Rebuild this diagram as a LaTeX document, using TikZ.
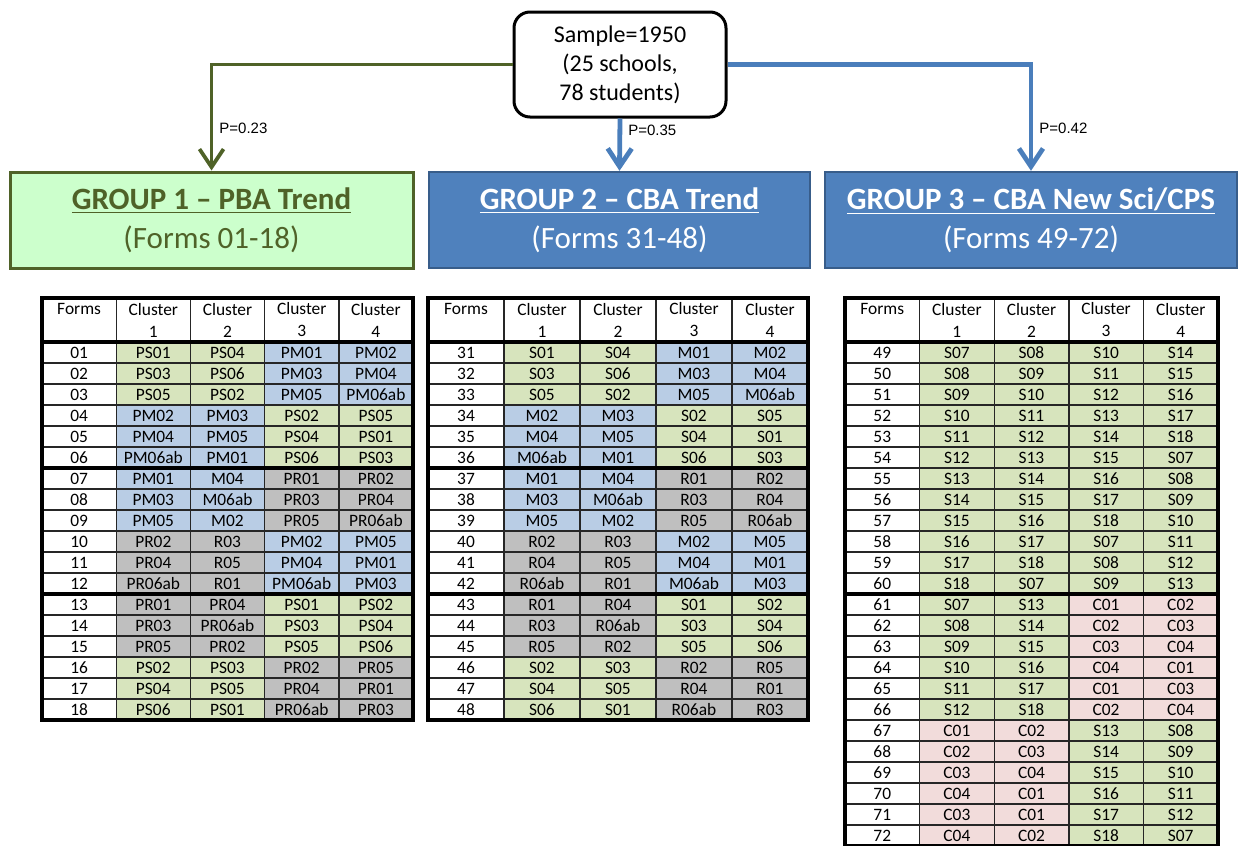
\documentclass[tikz,border=0pt]{standalone}
\usepackage{fontspec}
\setmainfont{Carlito}
\newfontfamily\labelfont{Liberation Sans}
\usetikzlibrary{arrows.meta, positioning}

\definecolor{grpgreen}{HTML}{CCFFCC}
\definecolor{grpolive}{HTML}{4F6228}
\definecolor{grpblue}{HTML}{4F81BD}
\definecolor{grpblueline}{HTML}{385D8A}
\definecolor{linkblue}{HTML}{4A7EBB}
\definecolor{cellS}{HTML}{D7E4BD}
\definecolor{cellM}{HTML}{B9CDE5}
\definecolor{cellR}{HTML}{BFBFBF}
\definecolor{cellC}{HTML}{F2DCDB}

\newcommand\tablefont{\fontsize{8.7}{11}\selectfont}

% one forms table: name, left x, cell width, rows, heavy breaks, data
\newcommand\formtable[6]{%
  \begin{scope}[shift={(#2,298)}, cell/.append style={minimum width=#3*0.5pt}]
    \node[cell, minimum height=22pt] (#1-h0) at (0,0) {Forms\\\mbox{}};
    \foreach \k in {1,...,4}
      \node[cell, minimum height=22pt] (#1-h\k) at (\k*#3,0) {Cluster\\\k};
    \foreach \fm/\ua/\ub/\uc/\ud/\lc/\rc [count=\i] in {#6} {
      \pgfmathsetmacro\yy{44+(\i-1)*21}
      \node[cell] (#1-\i-0) at (0,\yy) {\fm};
      \node[cell, fill=cell\lc] (#1-\i-1) at (#3,\yy) {\ua};
      \node[cell, fill=cell\lc] (#1-\i-2) at (2*#3,\yy) {\ub};
      \node[cell, fill=cell\rc] (#1-\i-3) at (3*#3,\yy) {\uc};
      \node[cell, fill=cell\rc] (#1-\i-4) at (4*#3,\yy) {\ud};
    }
    % heavy rules
    \draw[heavyrule] (#1-1-0.north west) -- (#1-1-4.north east);
    \foreach \j in {#5}
      \draw[heavyrule] (#1-\j-0.south west) -- (#1-\j-4.south east);
    \draw[heavyrule] (#1-h0.north west) rectangle (#1-#4-4.south east);
  \end{scope}}

\begin{document}
\begin{tikzpicture}[
    x=0.5pt, y=-0.5pt,
    group/.style={rectangle, minimum height=48pt, align=center, font=\fontsize{15.5}{19.5}\selectfont},
    link/.style={draw, line width=2.4pt, -{Straight Barb[length=9pt, width=12pt]}},
    plabel/.style={font=\labelfont\fontsize{7.5}{9}\selectfont, right, inner sep=3pt, text=black},
    cell/.style={draw=black!85, line width=0.7pt, fill=white, anchor=north west, inner sep=0pt, outer sep=0pt, minimum height=10.5pt, align=center, font=\tablefont},
    heavyrule/.style={draw=black, line width=1.6pt}
]
    \useasboundingbox (0,0) rectangle (1239,846);

    \node [draw=black, line width=1.5pt, rounded corners=8pt, minimum width=106pt, minimum height=52.5pt, align=center, font=\fontsize{12}{14.5}\selectfont] (sample) at (620,64.5) {Sample=1950\\(25 schools,\\78 students)};

    \node [group, fill=grpgreen, draw=grpolive, line width=1.5pt, text=grpolive, minimum width=201.5pt] (grp1) at (211.5,220) {\textbf{\underline{GROUP 1 – PBA Trend}}\\(Forms 01-18)};
    \node [group, fill=grpblue, draw=grpblueline, line width=1.2pt, text=white, minimum width=190.5pt] (grp2) at (619.5,220) {\textbf{\underline{GROUP 2 – CBA Trend}}\\(Forms 31-48)};
    \node [group, fill=grpblue, draw=grpblueline, line width=1.2pt, text=white, minimum width=206pt] (grp3) at (1031,220) {\textbf{\underline{GROUP 3 – CBA New Sci/CPS}}\\(Forms 49-72)};

    \path [link, draw=grpolive, line width=1.9pt] (sample.west) -| node [plabel, pos=0.8] {P=0.23} (grp1.north);
    \path [link, draw=linkblue] (sample.south) -- node [plabel, pos=0.22] {P=0.35} (grp2.north);
    \path [link, draw=linkblue] (sample.east) -| node [plabel, pos=0.8] {P=0.42} (grp3.north);

    \formtable{tA}{42}{74.2}{18}{6,12}{%
        01/PS01/PS04/PM01/PM02/S/M,
        02/PS03/PS06/PM03/PM04/S/M,
        03/PS05/PS02/PM05/PM06ab/S/M,
        04/PM02/PM03/PS02/PS05/M/S,
        05/PM04/PM05/PS04/PS01/M/S,
        06/PM06ab/PM01/PS06/PS03/M/S,
        07/PM01/M04/PR01/PR02/M/R,
        08/PM03/M06ab/PR03/PR04/M/R,
        09/PM05/M02/PR05/PR06ab/M/R,
        10/PR02/R03/PM02/PM05/R/M,
        11/PR04/R05/PM04/PM01/R/M,
        12/PR06ab/R01/PM06ab/PM03/R/M,
        13/PR01/PR04/PS01/PS02/R/S,
        14/PR03/PR06ab/PS03/PS04/R/S,
        15/PR05/PR02/PS05/PS06/R/S,
        16/PS02/PS03/PR02/PR05/S/R,
        17/PS04/PS05/PR04/PR01/S/R,
        18/PS06/PS01/PR06ab/PR03/S/R}

    \formtable{tB}{428}{76}{18}{6,12}{%
        31/S01/S04/M01/M02/S/M,
        32/S03/S06/M03/M04/S/M,
        33/S05/S02/M05/M06ab/S/M,
        34/M02/M03/S02/S05/M/S,
        35/M04/M05/S04/S01/M/S,
        36/M06ab/M01/S06/S03/M/S,
        37/M01/M04/R01/R02/M/R,
        38/M03/M06ab/R03/R04/M/R,
        39/M05/M02/R05/R06ab/M/R,
        40/R02/R03/M02/M05/R/M,
        41/R04/R05/M04/M01/R/M,
        42/R06ab/R01/M06ab/M03/R/M,
        43/R01/R04/S01/S02/R/S,
        44/R03/R06ab/S03/S04/R/S,
        45/R05/R02/S05/S06/R/S,
        46/S02/S03/R02/R05/S/R,
        47/S04/S05/R04/R01/S/R,
        48/S06/S01/R06ab/R03/S/R}

    \formtable{tC}{845}{74.6}{24}{12}{%
        49/S07/S08/S10/S14/S/S,
        50/S08/S09/S11/S15/S/S,
        51/S09/S10/S12/S16/S/S,
        52/S10/S11/S13/S17/S/S,
        53/S11/S12/S14/S18/S/S,
        54/S12/S13/S15/S07/S/S,
        55/S13/S14/S16/S08/S/S,
        56/S14/S15/S17/S09/S/S,
        57/S15/S16/S18/S10/S/S,
        58/S16/S17/S07/S11/S/S,
        59/S17/S18/S08/S12/S/S,
        60/S18/S07/S09/S13/S/S,
        61/S07/S13/C01/C02/S/C,
        62/S08/S14/C02/C03/S/C,
        63/S09/S15/C03/C04/S/C,
        64/S10/S16/C04/C01/S/C,
        65/S11/S17/C01/C03/S/C,
        66/S12/S18/C02/C04/S/C,
        67/C01/C02/S13/S08/C/S,
        68/C02/C03/S14/S09/C/S,
        69/C03/C04/S15/S10/C/S,
        70/C04/C01/S16/S11/C/S,
        71/C03/C01/S17/S12/C/S,
        72/C04/C02/S18/S07/C/S}
\end{tikzpicture}
\end{document}
